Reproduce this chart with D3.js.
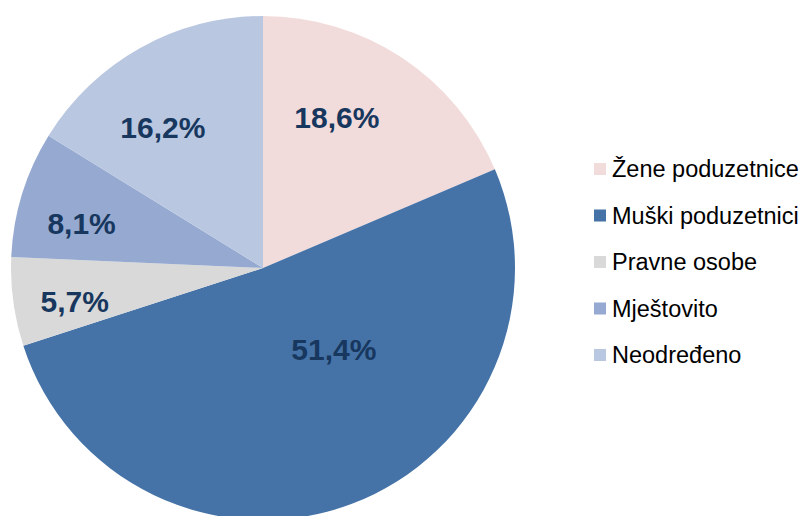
<!DOCTYPE html>
<html>
<head>
<meta charset="utf-8">
<script src="https://cdn.jsdelivr.net/npm/d3@7"></script>
<style>
  body { margin: 0; background: #fff; }
  svg { display: block; }
</style>
</head>
<body>
<svg id="chart" width="805" height="516"></svg>
<script>
var categories = ['Žene poduzetnice', 'Muški poduzetnici', 'Pravne osobe', 'Mještovito', 'Neodređeno'],
    values = [18.6, 51.4, 5.7, 8.1, 16.2],
    colors = ['#f2dcdb', '#4573a7', '#d9d9d9', '#95a9d1', '#b9c7e0'];

var width = 805,
    height = 516,
    cx = 263,
    cy = 268,
    radius = 252,
    total = d3.sum(values);

var svg = d3.select('#chart');

var pie = d3.pie().sort(null).value(function(d) { return d; }),
    arc = d3.arc().innerRadius(0).outerRadius(radius),
    arcs = pie(values);

var g = svg.append('g').attr('transform', 'translate(' + cx + ',' + cy + ')');

g.selectAll('.slice').data(arcs)
  .enter().append('path')
  .attr('class', 'slice')
  .attr('d', arc)
  .attr('fill', function(d, i) { return colors[i]; });

// bigger slices get their label pulled in towards the centre and
// a bit back towards the slice start, roughly like excel's best fit
function labelPos(d) {
  var f = d.value / total,
      r = radius * (0.80 - 0.72 * f),
      a = d.startAngle + 0.39 * (d.endAngle - d.startAngle);
  return [r * Math.sin(a), -r * Math.cos(a)];
}

g.selectAll('.label').data(arcs)
  .enter().append('text')
  .attr('class', 'label')
  .attr('x', function(d) { return labelPos(d)[0]; })
  .attr('y', function(d) { return labelPos(d)[1]; })
  .attr('dy', '0.35em')
  .attr('text-anchor', 'middle')
  .style('font-family', 'Arial, "Liberation Sans", sans-serif')
  .style('font-weight', 'bold')
  .style('font-size', '30px')
  .style('fill', '#17375e')
  .text(function(d) { return d3.format('.1f')(d.value).replace('.', ',') + '%'; });

var legendY = d3.scalePoint().domain(categories).range([169, 355]);

var legend = svg.append('g').selectAll('.legend').data(categories)
  .enter().append('g')
  .attr('class', 'legend')
  .attr('transform', function(d) { return 'translate(594,' + legendY(d) + ')'; });

legend.append('rect')
  .attr('x', 0)
  .attr('y', -6)
  .attr('width', 12)
  .attr('height', 12)
  .attr('fill', function(d, i) { return colors[i]; });

legend.append('text')
  .attr('x', 18)
  .attr('y', 0)
  .attr('dy', '0.36em')
  .style('font-family', 'Arial, "Liberation Sans", sans-serif')
  .style('font-size', '23.5px')
  .style('fill', '#000')
  .text(function(d) { return d; });
</script>
</body>
</html>
